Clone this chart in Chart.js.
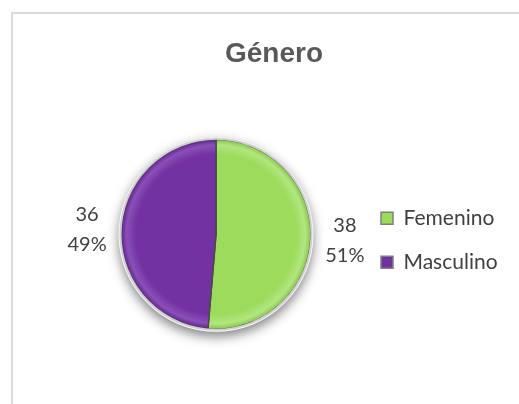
<!DOCTYPE html>
<html>
<head>
<meta charset="utf-8">
<script src="https://cdn.jsdelivr.net/npm/chart.js@4/dist/chart.umd.min.js"></script>
<style>
  html, body { margin: 0; padding: 0; background: #ffffff; }
  canvas { display: block; }
</style>
</head>
<body>
<canvas id="c" width="519" height="404"></canvas>
<script>
// ---- data ----
const chartTitle = 'Género';
const categories = ['Femenino', 'Masculino'];
const values = [38, 36];
const sliceColors = ['#9cdb5c', '#7232a2'];
const edgeLight = ['#b2e67f', '#8a4fb8'];
const edgeDark = ['#88c548', '#5f2489'];

const total = values.reduce((a, b) => a + b, 0);
const percentLabels = values.map(v => Math.round(v / total * 100) + '%');

const framePlugin = {
  id: 'frame',
  beforeDraw(chart) {
    const ctx = chart.ctx;
    ctx.save();
    ctx.fillStyle = '#ffffff';
    ctx.fillRect(0, 0, chart.width, chart.height);
    ctx.strokeStyle = '#d9d9d9';
    ctx.lineWidth = 2;
    ctx.beginPath();
    ctx.moveTo(12, chart.height + 2);
    ctx.lineTo(12, 13);
    ctx.lineTo(chart.width + 2, 13);
    ctx.stroke();
    ctx.restore();
  },
  afterLayout(chart) {
    // let the legend text run to the right edge of the canvas
    const lg = chart.legend;
    if (lg) {
      lg.right = chart.width;
      lg.width = lg.right - lg.left;
    }
  }
};

const pieDecor = {
  id: 'pieDecor',
  beforeDatasetsDraw(chart) {
    const arc = chart.getDatasetMeta(0).data[0];
    if (!arc) return;
    const { x, y, outerRadius } = arc.getProps(['x', 'y', 'outerRadius'], true);
    const ctx = chart.ctx;
    ctx.save();
    ctx.shadowColor = 'rgba(0,0,0,0.5)';
    ctx.shadowBlur = 12;
    ctx.shadowOffsetY = 5;
    ctx.beginPath();
    ctx.arc(x, y, outerRadius + 2, 0, Math.PI * 2);
    ctx.fillStyle = '#d4d4d4';
    ctx.fill();
    ctx.restore();
  },
  afterDatasetsDraw(chart) {
    const meta = chart.getDatasetMeta(0);
    const ctx = chart.ctx;
    const first = meta.data[0];
    const c = first.getProps(['x', 'y', 'outerRadius'], true);
    ctx.save();
    ctx.beginPath();
    ctx.arc(c.x, c.y, c.outerRadius + 1, 0, Math.PI * 2);
    ctx.strokeStyle = '#d0d0d0';
    ctx.lineWidth = 3;
    ctx.stroke();
    ctx.beginPath();
    ctx.arc(c.x, c.y, c.outerRadius + 2, 0, Math.PI * 2);
    ctx.strokeStyle = 'rgba(255,255,255,0.8)';
    ctx.lineWidth = 1;
    ctx.stroke();

    ctx.font = '20px Lato';
    ctx.fillStyle = '#404040';
    ctx.textAlign = 'center';
    ctx.textBaseline = 'middle';
    meta.data.forEach((el, i) => {
      const p = el.getProps(['x', 'y', 'startAngle', 'endAngle', 'outerRadius'], true);
      const mid = (p.startAngle + p.endAngle) / 2;
      const d = p.outerRadius + 34;
      const lx = p.x + Math.cos(mid) * d;
      const ly = p.y + Math.sin(mid) * d;
      ctx.fillText(String(values[i]), lx, ly - 14);
      ctx.fillText(percentLabels[i], lx, ly + 16);
    });
    ctx.restore();
  }
};

function sliceFill(context) {
  const i = context.dataIndex;
  const chart = context.chart;
  const area = chart.chartArea;
  if (!area) return sliceColors[i];
  const cx = (area.left + area.right) / 2;
  const cy = (area.top + area.bottom) / 2;
  const r = 95;
  const g = chart.ctx.createRadialGradient(cx, cy, 0, cx, cy, r);
  g.addColorStop(0, sliceColors[i]);
  g.addColorStop(0.84, sliceColors[i]);
  g.addColorStop(0.94, edgeLight[i]);
  g.addColorStop(1, edgeDark[i]);
  return g;
}

new Chart(document.getElementById('c'), {
  type: 'pie',
  data: {
    labels: categories,
    datasets: [{
      data: values,
      backgroundColor: sliceFill,
      borderColor: '#4a4a4a',
      borderWidth: 1.5,
      radius: 95
    }]
  },
  options: {
    responsive: false,
    devicePixelRatio: 1,
    animation: false,
    layout: { padding: { left: 74, right: 45, top: 13, bottom: 75 } },
    plugins: {
      tooltip: { enabled: false },
      title: {
        display: true,
        text: chartTitle,
        color: '#595959',
        font: { family: 'Liberation Sans', size: 28, weight: 'bold' },
        padding: { top: 24, bottom: 69 }
      },
      legend: {
        position: 'right',
        align: 'center',
        fullSize: false,
        maxWidth: 116,
        title: { display: true, text: '', font: { size: 10 }, padding: 0 },
        labels: {
          boxWidth: 12,
          boxHeight: 12,
          padding: 23,
          color: '#404040',
          font: { family: 'Lato', size: 21 },
          generateLabels: () => categories.map((c, i) => ({
            text: c,
            fillStyle: sliceColors[i],
            strokeStyle: '#7f7f7f',
            lineWidth: 1.5,
            hidden: false,
            index: i,
            fontColor: '#404040'
          }))
        }
      }
    }
  },
  plugins: [framePlugin, pieDecor]
});
</script>
</body>
</html>
